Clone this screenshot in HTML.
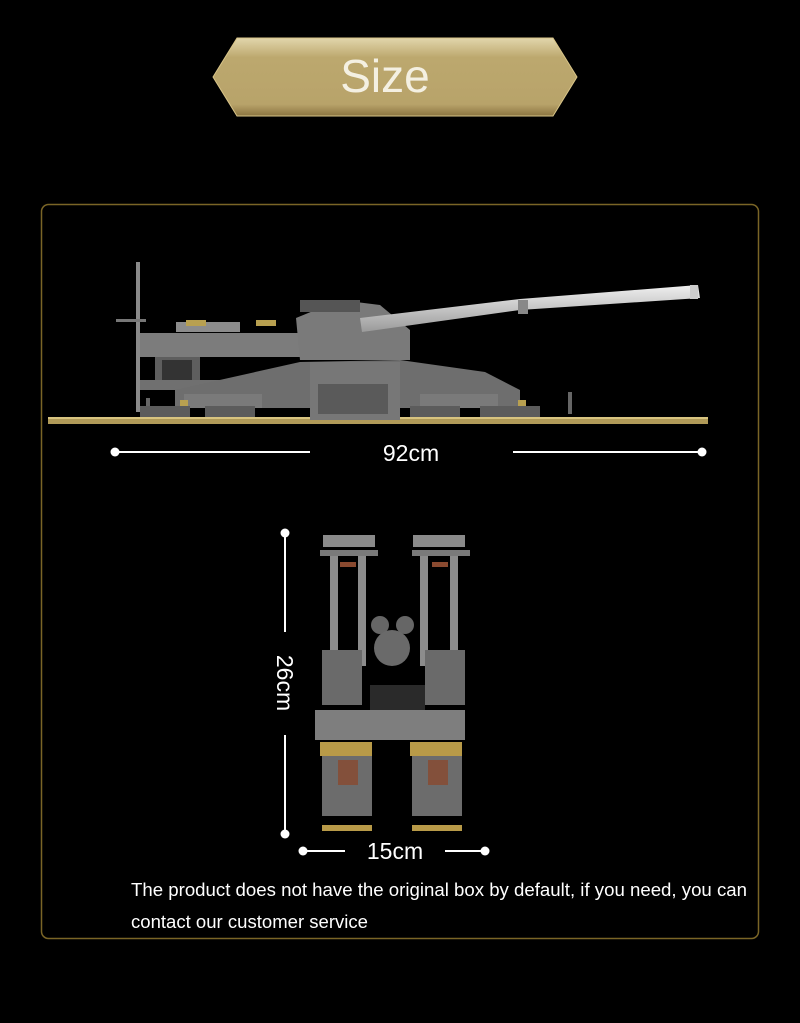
<!DOCTYPE html>
<html><head><meta charset="utf-8"><style>
html,body{margin:0;padding:0;background:#000;width:800px;height:1023px;overflow:hidden}
svg{display:block}
text{font-family:"Liberation Sans","DejaVu Sans",sans-serif}
</style></head><body>
<svg width="800" height="1023" viewBox="0 0 800 1023">
<defs>
<linearGradient id="bn" x1="0" y1="0" x2="0" y2="1">
<stop offset="0" stop-color="#e2d6ac"/><stop offset="0.25" stop-color="#bca86e"/><stop offset="0.85" stop-color="#b8a36a"/><stop offset="1" stop-color="#8a7440"/>
</linearGradient>
<linearGradient id="brl" x1="0" y1="0" x2="0" y2="1">
<stop offset="0" stop-color="#f0f0f0"/><stop offset="1" stop-color="#9a9a9a"/>
</linearGradient>
</defs>
<rect width="800" height="1023" fill="#000"/>
<polygon points="213,77 237,38 553,38 577,77 553,116 237,116" fill="url(#bn)" stroke="#d8c488" stroke-width="1"/>
<text x="385" y="92" font-size="46" fill="#f4f0e2" text-anchor="middle">Size</text>
<rect x="41.5" y="204.5" width="717" height="734" rx="7" fill="none" stroke="#7a6526" stroke-width="1.5"/>

<g>
<rect x="48" y="417" width="660" height="7" fill="#b09a58"/>
<rect x="48" y="417" width="660" height="2" fill="#d8c480"/>
<rect x="136" y="262" width="4" height="150" fill="#8a8a8a"/>
<rect x="116" y="319" width="30" height="3" fill="#777"/>
<rect x="176" y="322" width="64" height="10" fill="#8c8c8c"/>
<rect x="140" y="333" width="165" height="24" fill="#7c7c7c"/>
<rect x="186" y="320" width="20" height="6" fill="#b8a050"/>
<rect x="256" y="320" width="20" height="6" fill="#b8a050"/>
<rect x="155" y="357" width="45" height="30" fill="#5e5e5e"/>
<rect x="162" y="360" width="30" height="20" fill="#333"/>
<rect x="140" y="380" width="80" height="10" fill="#707070"/>
<polygon points="296,318 340,300 380,305 410,330 410,360 300,360" fill="#7a7a7a"/>
<rect x="300" y="300" width="60" height="12" fill="#555"/>
<polygon points="360,318 520,299 698,285 700,298 520,310 362,332" fill="url(#brl)"/>
<rect x="518" y="300" width="10" height="14" fill="#888"/>
<rect x="690" y="285" width="8" height="14" fill="#ccc"/>
<polygon points="175,390 300,362 400,360 485,372 520,390 520,408 175,408" fill="#6e6e6e"/>
<rect x="310" y="362" width="90" height="58" fill="#777"/>
<rect x="318" y="384" width="70" height="30" fill="#5a5a5a"/>
<rect x="184" y="394" width="78" height="14" fill="#7a7a7a"/>
<rect x="420" y="394" width="78" height="14" fill="#7a7a7a"/>
<rect x="146" y="398" width="4" height="16" fill="#666"/>
<rect x="568" y="392" width="4" height="22" fill="#666"/>
<rect x="140" y="406" width="50" height="11" fill="#5c5c5c"/>
<rect x="205" y="406" width="50" height="11" fill="#5c5c5c"/>
<rect x="410" y="406" width="50" height="11" fill="#5c5c5c"/>
<rect x="480" y="406" width="60" height="11" fill="#5c5c5c"/>
<rect x="180" y="400" width="8" height="6" fill="#b8a050"/>
<rect x="518" y="400" width="8" height="6" fill="#b8a050"/>
</g>
<line x1="115" y1="452" x2="310" y2="452" stroke="#fff" stroke-width="2"/>
<line x1="513" y1="452" x2="702" y2="452" stroke="#fff" stroke-width="2"/>
<circle cx="115" cy="452" r="4.5" fill="#fff"/>
<circle cx="702" cy="452" r="4.5" fill="#fff"/>
<text x="411" y="461" font-size="23" fill="#fff" text-anchor="middle">92cm</text>

<g>
<rect x="323" y="535" width="52" height="12" fill="#8a8a8a"/>
<rect x="413" y="535" width="52" height="12" fill="#8a8a8a"/>
<rect x="320" y="550" width="58" height="6" fill="#7a7a7a"/>
<rect x="412" y="550" width="58" height="6" fill="#7a7a7a"/>
<rect x="330" y="556" width="8" height="110" fill="#8c8c8c"/>
<rect x="358" y="556" width="8" height="110" fill="#8c8c8c"/>
<rect x="420" y="556" width="8" height="110" fill="#8c8c8c"/>
<rect x="450" y="556" width="8" height="110" fill="#8c8c8c"/>
<rect x="340" y="562" width="16" height="5" fill="#8a4a30"/>
<rect x="432" y="562" width="16" height="5" fill="#8a4a30"/>
<circle cx="380" cy="625" r="9" fill="#666"/>
<circle cx="405" cy="625" r="9" fill="#666"/>
<circle cx="392" cy="648" r="18" fill="#6a6a6a"/>
<rect x="322" y="650" width="40" height="55" fill="#6a6a6a"/>
<rect x="425" y="650" width="40" height="55" fill="#6a6a6a"/>
<rect x="370" y="685" width="55" height="40" fill="#2a2a2a"/>
<rect x="315" y="710" width="150" height="30" fill="#7e7e7e"/>
<rect x="320" y="742" width="52" height="14" fill="#b89a48"/>
<rect x="410" y="742" width="52" height="14" fill="#b89a48"/>
<rect x="322" y="756" width="50" height="60" fill="#6c6c6c"/>
<rect x="412" y="756" width="50" height="60" fill="#6c6c6c"/>
<rect x="338" y="760" width="20" height="25" fill="#8a4a30" opacity="0.8"/>
<rect x="428" y="760" width="20" height="25" fill="#8a4a30" opacity="0.8"/>
<rect x="322" y="825" width="50" height="6" fill="#b89a48"/>
<rect x="412" y="825" width="50" height="6" fill="#b89a48"/>
</g>
<line x1="285" y1="533" x2="285" y2="632" stroke="#fff" stroke-width="2"/>
<line x1="285" y1="735" x2="285" y2="834" stroke="#fff" stroke-width="2"/>
<circle cx="285" cy="533" r="4.5" fill="#fff"/>
<circle cx="285" cy="834" r="4.5" fill="#fff"/>
<text transform="translate(277,683) rotate(90)" font-size="23" fill="#fff" text-anchor="middle">26cm</text>
<line x1="303" y1="851" x2="345" y2="851" stroke="#fff" stroke-width="2"/>
<line x1="445" y1="851" x2="485" y2="851" stroke="#fff" stroke-width="2"/>
<circle cx="303" cy="851" r="4.5" fill="#fff"/>
<circle cx="485" cy="851" r="4.5" fill="#fff"/>
<text x="395" y="859" font-size="23" fill="#fff" text-anchor="middle">15cm</text>

<text x="131" y="896" font-size="18" fill="#fff" textLength="616" lengthAdjust="spacingAndGlyphs">The product does not have the original box by default, if you need, you can</text>
<text x="131" y="928" font-size="18" fill="#fff" textLength="237" lengthAdjust="spacingAndGlyphs">contact our customer service</text>
</svg>
</body></html>
